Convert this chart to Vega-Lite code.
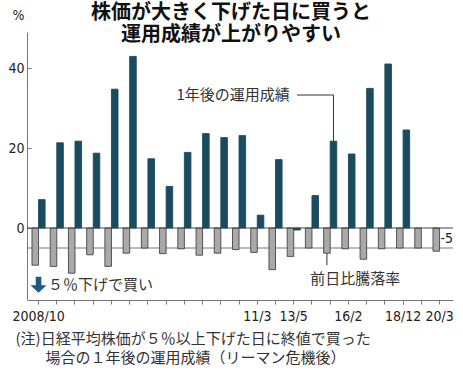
{
  "$schema": "https://vega.github.io/schema/vega-lite/v6.json",
  "autosize": "none",
  "width": 426,
  "height": 268,
  "padding": {"left": 27, "top": 32, "right": 10, "bottom": 73},
  "background": "white",
  "config": {"view": {"stroke": null}, "font": "Noto Sans CJK JP"},
  "title": {
    "text": ["株価が大きく下げた日に買うと", "運用成績が上がりやすい"],
    "font": "Noto Sans CJK JP",
    "fontSize": 20,
    "fontWeight": "bold",
    "color": "#111",
    "anchor": "middle",
    "frame": "group",
    "dx": -9,
    "offset": -37,
    "lineHeight": 22
  },
  "datasets": {
    "bars": [
      {"id": 1, "series": "down", "value": -9.3}, {"id": 1, "series": "up", "value": 7.1},
      {"id": 2, "series": "down", "value": -9.6}, {"id": 2, "series": "up", "value": 21.3},
      {"id": 3, "series": "down", "value": -11.3}, {"id": 3, "series": "up", "value": 21.7},
      {"id": 4, "series": "down", "value": -6.7}, {"id": 4, "series": "up", "value": 18.7},
      {"id": 5, "series": "down", "value": -9.6}, {"id": 5, "series": "up", "value": 34.7},
      {"id": 6, "series": "down", "value": -6.3}, {"id": 6, "series": "up", "value": 42.9},
      {"id": 7, "series": "down", "value": -5.0}, {"id": 7, "series": "up", "value": 17.3},
      {"id": 8, "series": "down", "value": -6.4}, {"id": 8, "series": "up", "value": 10.4},
      {"id": 9, "series": "down", "value": -5.2}, {"id": 9, "series": "up", "value": 18.9},
      {"id": 10, "series": "down", "value": -6.8}, {"id": 10, "series": "up", "value": 23.6},
      {"id": 11, "series": "down", "value": -6.3}, {"id": 11, "series": "up", "value": 22.6},
      {"id": 12, "series": "down", "value": -5.4}, {"id": 12, "series": "up", "value": 23.1},
      {"id": 13, "series": "down", "value": -6.1}, {"id": 13, "series": "up", "value": 3.2},
      {"id": 14, "series": "down", "value": -10.4}, {"id": 14, "series": "up", "value": 17.1},
      {"id": 15, "series": "down", "value": -7.1}, {"id": 15, "series": "up", "value": -0.5},
      {"id": 16, "series": "down", "value": -5.0}, {"id": 16, "series": "up", "value": 8.1},
      {"id": 17, "series": "down", "value": -6.3}, {"id": 17, "series": "up", "value": 21.7},
      {"id": 18, "series": "down", "value": -5.2}, {"id": 18, "series": "up", "value": 18.5},
      {"id": 19, "series": "down", "value": -7.8}, {"id": 19, "series": "up", "value": 34.9},
      {"id": 20, "series": "down", "value": -5.2}, {"id": 20, "series": "up", "value": 41.0},
      {"id": 21, "series": "down", "value": -5.0}, {"id": 21, "series": "up", "value": 24.5},
      {"id": 22, "series": "down", "value": -5.0},
      {"id": 23, "series": "down", "value": -5.8}
    ]
  },
  "layer": [
    {
      "data": {"values": [{"level": -5}]},
      "mark": {"type": "rule", "color": "#777", "strokeWidth": 1},
      "encoding": {"y": {"field": "level", "type": "quantitative"}}
    },
    {
      "data": {"name": "bars"},
      "mark": {"type": "bar", "strokeWidth": 0.9},
      "encoding": {
        "x": {
          "field": "id",
          "type": "ordinal",
          "scale": {"paddingInner": 0.28, "paddingOuter": 0.325, "align": 0.42},
          "axis": {
            "orient": "bottom",
            "labelAngle": 0,
            "labelExpr": "datum.value == 1 ? '2008/10' : datum.value == 13 ? '11/3' : datum.value == 15 ? '13/5' : datum.value == 18 ? '16/2' : datum.value == 21 ? '18/12' : datum.value == 23 ? '20/3' : ''",
            "labelFont": "Liberation Sans Narrow, DejaVu Sans Condensed, sans-serif",
            "labelFontSize": 14,
            "labelColor": "#222",
            "labelPadding": 5,
            "labelOverlap": false,
            "domainColor": "#777",
            "tickColor": "#777",
            "tickSize": 4,
            "grid": false,
            "title": ["(注)日経平均株価が５％以上下げた日に終値で買った", "\u200b　　場合の１年後の運用成績（リーマン危機後）"],
            "titleFont": "Noto Sans CJK JP",
            "titleFontSize": 15,
            "titleFontWeight": "normal",
            "titleColor": "#333",
            "titleAnchor": "start",
            "titleAlign": "left",
            "titleBaseline": "top",
            "titleX": -12,
            "titleY": 31,
            "titleLineHeight": 19
          }
        },
        "xOffset": {
          "field": "series",
          "type": "nominal",
          "scale": {"domain": ["down", "up"], "paddingInner": 0, "paddingOuter": 0}
        },
        "y": {
          "field": "value",
          "type": "quantitative",
          "scale": {"domain": [-18, 49], "nice": false, "zero": false},
          "axis": {
            "orient": "left",
            "values": [0, 20, 40],
            "grid": false,
            "domainColor": "#777",
            "tickColor": "#777",
            "tickSize": -4,
            "labelPadding": 7,
            "labelFont": "Liberation Sans Narrow, DejaVu Sans Condensed, sans-serif",
            "labelFontSize": 14,
            "labelColor": "#222",
            "title": "%",
            "titleAngle": 0,
            "titleFont": "Liberation Sans Narrow, DejaVu Sans Condensed, sans-serif",
            "titleFontSize": 14,
            "titleFontWeight": "normal",
            "titleColor": "#222",
            "titleAlign": "center",
            "titleBaseline": "middle",
            "titleX": -9,
            "titleY": -17
          }
        },
        "color": {
          "field": "series",
          "type": "nominal",
          "scale": {"domain": ["down", "up"], "range": ["#a9a9a9", "#1b4b5f"]},
          "legend": null
        },
        "stroke": {
          "field": "series",
          "type": "nominal",
          "scale": {"domain": ["down", "up"], "range": ["#444444", "#1b4b5f"]},
          "legend": null
        }
      }
    },
    {
      "data": {"values": [{"level": 0}]},
      "mark": {"type": "rule", "color": "#444", "strokeWidth": 1},
      "encoding": {"y": {"field": "level", "type": "quantitative"}}
    },
    {
      "data": {"values": [{"id": 15, "v": 33.25, "o": 1}, {"id": 17, "v": 33.25, "o": 2}, {"id": 17, "v": 21.7, "o": 3}]},
      "mark": {"type": "line", "color": "#333", "strokeWidth": 1},
      "encoding": {
        "x": {"field": "id", "type": "ordinal", "bandPosition": 0.75},
        "y": {"field": "v", "type": "quantitative"},
        "order": {"field": "o", "type": "quantitative"}
      }
    },
    {
      "data": {"values": [{"id": 17, "v": -6.3, "o": 1}, {"id": 17, "v": -9.3, "o": 2}]},
      "mark": {"type": "line", "color": "#333", "strokeWidth": 1},
      "encoding": {
        "x": {"field": "id", "type": "ordinal", "bandPosition": 0.25},
        "y": {"field": "v", "type": "quantitative"},
        "order": {"field": "o", "type": "quantitative"}
      }
    },
    {
      "data": {"values": [{"id": 15, "v": 33.25, "t": "1年後の運用成績"}]},
      "mark": {"type": "text", "font": "Noto Sans CJK JP", "fontSize": 15, "color": "#333", "baseline": "middle", "align": "right", "dx": -4},
      "encoding": {
        "x": {"field": "id", "type": "ordinal"},
        "y": {"field": "v", "type": "quantitative"},
        "text": {"field": "t"}
      }
    },
    {
      "data": {"values": [{"id": 17, "v": -12.75, "t": "前日比騰落率"}]},
      "mark": {"type": "text", "font": "Noto Sans CJK JP", "fontSize": 15, "color": "#333", "baseline": "middle", "align": "left", "dx": -20},
      "encoding": {
        "x": {"field": "id", "type": "ordinal"},
        "y": {"field": "v", "type": "quantitative"},
        "text": {"field": "t"}
      }
    },
    {
      "data": {"values": [{"id": 1, "v": -14.2, "t": "５％下げで買い"}]},
      "mark": {"type": "text", "font": "Noto Sans CJK JP", "fontSize": 15, "color": "#333", "baseline": "middle", "align": "left", "dx": 9.5},
      "encoding": {
        "x": {"field": "id", "type": "ordinal"},
        "y": {"field": "v", "type": "quantitative"},
        "text": {"field": "t"}
      }
    },
    {
      "data": {"values": [{"id": 23, "v": -2.75, "t": "-5"}]},
      "mark": {"type": "text", "font": "Liberation Sans Narrow, DejaVu Sans Condensed, sans-serif", "fontSize": 14, "color": "#222", "baseline": "middle", "align": "left", "dx": 1},
      "encoding": {
        "x": {"field": "id", "type": "ordinal"},
        "y": {"field": "v", "type": "quantitative"},
        "text": {"field": "t"}
      }
    },
    {
      "data": {"values": [{"id": 1, "v": -14.2}]},
      "mark": {"type": "point", "shape": "M-0.35,-1L0.35,-1L0.35,0.05L1,0.05L0,1L-1,0.05L-0.35,0.05Z", "size": 256, "filled": true, "color": "#1b5a86", "opacity": 1},
      "encoding": {
        "x": {"field": "id", "type": "ordinal"},
        "y": {"field": "v", "type": "quantitative"}
      }
    }
  ]
}
